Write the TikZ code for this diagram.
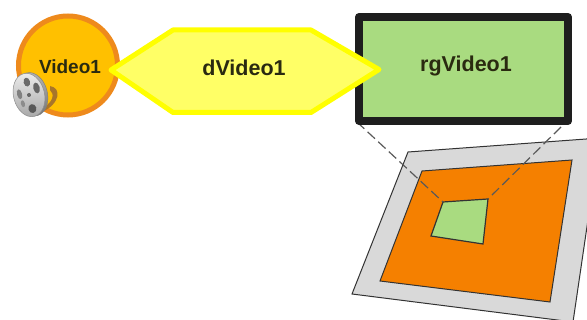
\documentclass[tikz,border=0pt]{standalone}
\usepackage{fontspec}
\setmainfont{Liberation Sans}
\definecolor{circfill}{HTML}{FFC000}
\definecolor{circline}{HTML}{EE8A1C}
\definecolor{hexfill}{HTML}{FFFF66}
\definecolor{hexline}{HTML}{FFFF00}
\definecolor{rgfill}{HTML}{A9DB80}
\definecolor{rgline}{HTML}{1E1E1E}
\definecolor{orangefill}{HTML}{F58000}
\definecolor{grayfill}{HTML}{D9D9D9}
\definecolor{labeltext}{HTML}{2A2A10}
\definecolor{filmstrip}{HTML}{A8752A}
\tikzset{
  lbl/.style={font=\fontsize{21.5}{24}\selectfont, text=labeltext, inner sep=0pt},
  plane/.style={draw=black!80, line width=1pt, line join=miter},
  link/.style={draw=black!65, line width=1.2pt, dash pattern=on 10pt off 4.5pt},
}
\begin{document}
\begin{tikzpicture}[x=1pt,y=-1pt]
\useasboundingbox (0,0) rectangle (587,320);
\clip (0,0) rectangle (587,320);
% coordinates
\coordinate (rgBL) at (357,122);
\coordinate (rgBR) at (561,127);
\coordinate (inTL) at (443,202);
\coordinate (inTR) at (488,199);
% region on the plane
\draw[plane, fill=grayfill] (408,152) -- (600,138) -- (573,322) -- (352,294) -- cycle;
\draw[plane, fill=orangefill] (422,171) -- (572,160) -- (550,302) -- (380,281) -- cycle;
\draw[plane, fill=rgfill, line width=1.2pt] (inTL) -- (inTR) -- (483,244) -- (431,236) -- cycle;
\draw[link] (rgBL) -- (inTL);
\draw[link] (rgBR) -- (inTR);
% circle
\node[circle, draw=circline, fill=circfill, line width=5pt, minimum size=99pt, inner sep=0pt] (video) at (68,65.5) {};
% film strip
\fill[filmstrip] (50,86) .. controls (62,88) and (60,104) .. (42,112) -- (43,108) .. controls (53,102) and (55,94) .. (50,90) -- cycle;
% film reel
\begin{scope}[shift={(29,95)}, rotate=14]
  \shade[top color=black!30, bottom color=black!55, draw=black!50, line width=0.5pt] (3,0) ellipse [x radius=15.5, y radius=22];
  \shade[top color=black!8, bottom color=black!35, draw=black!45, line width=0.5pt] (0,0) ellipse [x radius=15.5, y radius=22];
  \fill[black!60] (0,0) circle [radius=2];
  \fill[black!58] (1,-13) ellipse [x radius=3.2, y radius=4.5];
  \fill[black!65] (0,14) ellipse [x radius=4, y radius=4.5];
  \fill[black!50] (-9,-3) ellipse [x radius=2.5, y radius=5];
  \fill[black!60] (9,-5) ellipse [x radius=3.2, y radius=5.5];
  \fill[black!45] (-8,7) ellipse [x radius=2, y radius=3.5];
\end{scope}
% green rectangle
\draw[draw=rgline, fill=rgfill, line width=8pt, line join=round] (359,17) rectangle (568,121);
% hexagon
\draw[draw=hexline, fill=hexfill, line width=5pt, line join=round] (111,70) -- (173,30) -- (311,30) -- (379,69.5) -- (311,112.5) -- (173,112.5) -- cycle;
% labels
\node[lbl, font=\fontsize{19}{22}\selectfont] (videolabel) at (70,67) {\textbf{Video1}};
\node[lbl] (dvideolabel) at (244,68) {\textbf{dVideo1}};
\node[lbl] (rglabel) at (466,65.5) {\textbf{rgVideo1}};
\end{tikzpicture}
\end{document}
